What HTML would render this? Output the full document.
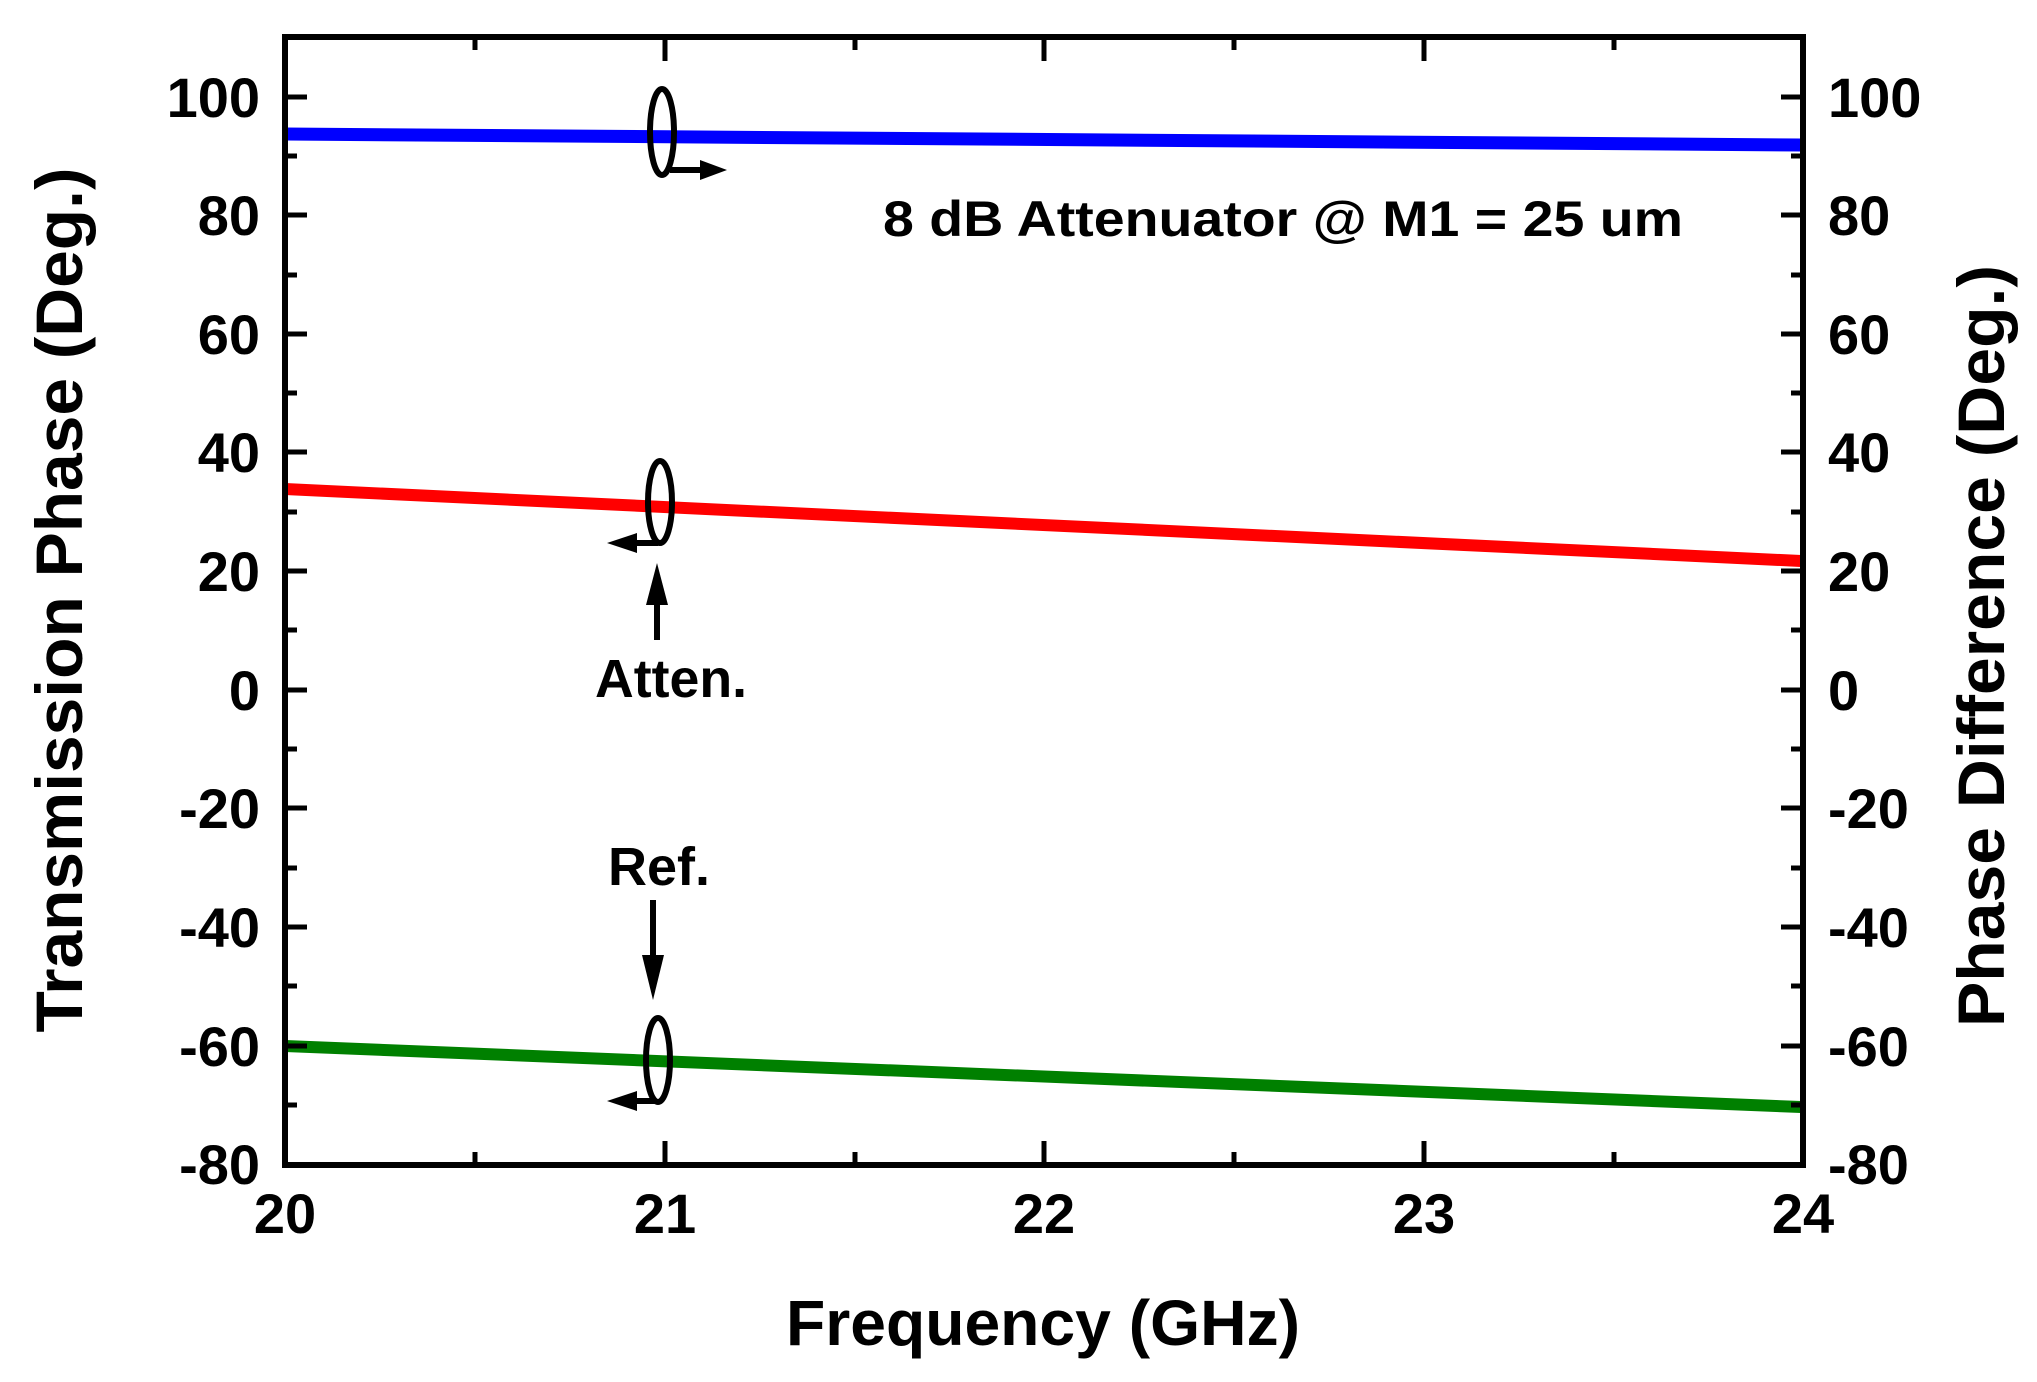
<!DOCTYPE html>
<html><head><meta charset="utf-8"><style>html,body{margin:0;padding:0;background:#fff}svg{display:block}</style></head>
<body>
<svg width="2037" height="1382" viewBox="0 0 2037 1382" xmlns="http://www.w3.org/2000/svg" font-family="Liberation Sans, Arial, sans-serif" font-weight="bold">
<rect width="2037" height="1382" fill="#fff"/>
<polyline points="285,134 1801,145" fill="none" stroke="#0000ff" stroke-width="13"/>
<polyline points="285,489 1801,561" fill="none" stroke="#ff0000" stroke-width="12"/>
<polyline points="285,1046 1801,1107" fill="none" stroke="#008000" stroke-width="12"/>
<rect x="285" y="37" width="1518" height="1128" fill="none" stroke="#000" stroke-width="6"/>
<g stroke="#000" stroke-width="5">
<path d="M285,1165v-24M665,1165v-24M1044,1165v-24M1424,1165v-24M1803,1165v-24
M475,1165v-13M855,1165v-13M1234,1165v-13M1614,1165v-13
M285,37v24M665,37v24M1044,37v24M1424,37v24M1803,37v24
M475,37v13M855,37v13M1234,37v13M1614,37v13"/>
<path d="M285,97h22M285,215h22M285,334h22M285,452h22M285,571h22M285,690h22M285,808h22M285,927h22M285,1046h22
M285,156h12M285,275h12M285,393h12M285,512h12M285,630h12M285,749h12M285,868h12M285,986h12M285,1105h12
M1803,97h-22M1803,215h-22M1803,334h-22M1803,452h-22M1803,571h-22M1803,690h-22M1803,808h-22M1803,927h-22M1803,1046h-22
M1803,156h-12M1803,275h-12M1803,393h-12M1803,512h-12M1803,630h-12M1803,749h-12M1803,868h-12M1803,986h-12M1803,1105h-12"/>
</g>
<g font-size="56" text-anchor="end" fill="#000">
<text x="260" y="117">100</text><text x="260" y="235">80</text><text x="260" y="354">60</text><text x="260" y="472">40</text><text x="260" y="591">20</text><text x="260" y="710">0</text><text x="260" y="828">-20</text><text x="260" y="947">-40</text><text x="260" y="1066">-60</text><text x="260" y="1184">-80</text>
</g>
<g font-size="56" text-anchor="start" fill="#000">
<text x="1828" y="117">100</text><text x="1828" y="235">80</text><text x="1828" y="354">60</text><text x="1828" y="472">40</text><text x="1828" y="591">20</text><text x="1828" y="710">0</text><text x="1828" y="828">-20</text><text x="1828" y="947">-40</text><text x="1828" y="1066">-60</text><text x="1828" y="1184">-80</text>
</g>
<g font-size="56" text-anchor="middle" fill="#000">
<text x="285" y="1233">20</text><text x="665" y="1233">21</text><text x="1044" y="1233">22</text><text x="1424" y="1233">23</text><text x="1803" y="1233">24</text>
</g>
<text x="1043" y="1345" font-size="64" text-anchor="middle" textLength="514" lengthAdjust="spacingAndGlyphs">Frequency (GHz)</text>
<text transform="translate(82,600) rotate(-90)" font-size="66" text-anchor="middle" textLength="865" lengthAdjust="spacingAndGlyphs">Transmission Phase (Deg.)</text>
<text transform="translate(2004,646) rotate(-90)" font-size="66" text-anchor="middle" textLength="762" lengthAdjust="spacingAndGlyphs">Phase Difference (Deg.)</text>
<text x="883" y="236" font-size="50" textLength="800" lengthAdjust="spacingAndGlyphs">8 dB Attenuator @ M1 = 25 um</text>
<g fill="none" stroke="#000" stroke-width="6">
<ellipse cx="662" cy="132" rx="12" ry="43"/>
<path d="M670,170H705"/>
<ellipse cx="660" cy="502" rx="12" ry="41"/>
<path d="M658,543H630"/>
<path d="M657,640V595"/>
<ellipse cx="658" cy="1060" rx="12" ry="42"/>
<path d="M656,1101H630"/>
<path d="M653,900V960"/>
</g>
<g fill="#000">
<path d="M727,170L700,160L700,180Z"/>
<path d="M607,543L637,533L637,553Z"/>
<path d="M657,563L646,605L668,605Z"/>
<path d="M607,1101L637,1091L637,1111Z"/>
<path d="M653,1000L642,955L664,955Z"/>
</g>
<text x="595" y="697" font-size="54" textLength="152" lengthAdjust="spacingAndGlyphs">Atten.</text>
<text x="608" y="885" font-size="54" textLength="102" lengthAdjust="spacingAndGlyphs">Ref.</text>
</svg>
</body></html>
